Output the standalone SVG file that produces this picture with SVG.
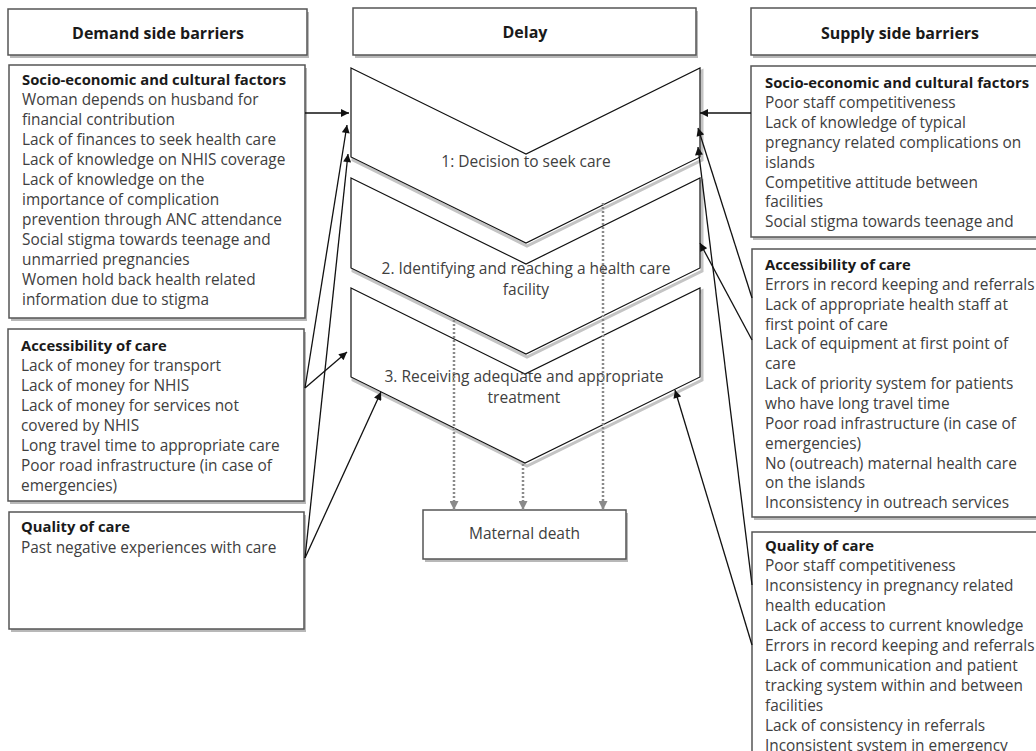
<svg xmlns="http://www.w3.org/2000/svg" width="1036" height="751" viewBox="0 0 1036 751">
<style>
.bx{fill:#fff;stroke:#555;stroke-width:1.5}
.sh{fill:#b8b8b8}
.chev{fill:#fff;stroke:#111;stroke-width:1.2}
.chsh{fill:none;stroke:#c4c4c4;stroke-width:3}
.t{font-family:'Open Sans','DejaVu Sans',sans-serif;font-size:15.4px;fill:#404040}
.b{font-weight:bold;fill:#1a1a1a;font-size:14.8px}
.hd{font-family:'Open Sans','DejaVu Sans',sans-serif;font-size:16px;font-weight:bold;fill:#1a1a1a;text-anchor:middle}
.ct{font-family:'Open Sans','DejaVu Sans',sans-serif;font-size:15.5px;fill:#404040;text-anchor:middle}
.c{fill:none;stroke:#111;stroke-width:1.3;marker-end:url(#ah)}
.d{fill:none;stroke:#8a8a8a;stroke-width:2.5;stroke-dasharray:2 2;marker-end:url(#gh)}
</style>
<defs>
<marker id="ah" viewBox="0 0 10 10" refX="10" refY="5" markerWidth="10" markerHeight="8" markerUnits="userSpaceOnUse" orient="auto"><path d="M0,0 L10,5 L0,10 z" fill="#111"/></marker>
<marker id="gh" viewBox="0 0 10 10" refX="10" refY="5" markerWidth="9" markerHeight="9" markerUnits="userSpaceOnUse" orient="auto"><path d="M0,0 L10,5 L0,10 z" fill="#8a8a8a"/></marker>
</defs>
<rect width="1036" height="751" fill="#fff"/>

<g id="hdr-demand">
<rect class="sh" x="10" y="12" width="299" height="46"/>
<rect class="bx" x="8" y="9" width="299" height="46"/>
<text class="hd" x="158" y="39">Demand side barriers</text>
</g>
<g id="hdr-delay">
<rect class="sh" x="355" y="11" width="343" height="47"/>
<rect class="bx" x="353" y="8" width="343" height="47"/>
<text class="hd" x="525" y="38">Delay</text>
</g>
<g id="hdr-supply">
<rect class="sh" x="753" y="11" width="300" height="47"/>
<rect class="bx" x="751" y="8" width="300" height="47"/>
<text class="hd" x="900" y="39">Supply side barriers</text>
</g>

<g id="demand-socio">
<rect class="sh" x="11" y="68" width="296" height="253"/>
<rect class="bx" x="9" y="65" width="296" height="253"/>
<text class="t" x="22" y="85"><tspan class="b" x="22">Socio-economic and cultural factors</tspan><tspan x="22" dy="20">Woman depends on husband for</tspan><tspan x="22" dy="20">financial contribution</tspan><tspan x="22" dy="20">Lack of finances to seek health care</tspan><tspan x="22" dy="20">Lack of knowledge on NHIS coverage</tspan><tspan x="22" dy="20">Lack of knowledge on the</tspan><tspan x="22" dy="20">importance of complication</tspan><tspan x="22" dy="20">prevention through ANC attendance</tspan><tspan x="22" dy="20">Social stigma towards teenage and</tspan><tspan x="22" dy="20">unmarried pregnancies</tspan><tspan x="22" dy="20">Women hold back health related</tspan><tspan x="22" dy="20">information due to stigma</tspan></text>
</g>
<g id="demand-access">
<rect class="sh" x="10" y="332" width="296" height="172"/>
<rect class="bx" x="8" y="329" width="296" height="172"/>
<text class="t" x="21" y="351"><tspan class="b" x="21">Accessibility of care</tspan><tspan x="21" dy="20">Lack of money for transport</tspan><tspan x="21" dy="20">Lack of money for NHIS</tspan><tspan x="21" dy="20">Lack of money for services not</tspan><tspan x="21" dy="20">covered by NHIS</tspan><tspan x="21" dy="20">Long travel time to appropriate care</tspan><tspan x="21" dy="20">Poor road infrastructure (in case of</tspan><tspan x="21" dy="20">emergencies)</tspan></text>
</g>
<g id="demand-quality">
<rect class="sh" x="11" y="515" width="295" height="117"/>
<rect class="bx" x="9" y="512" width="295" height="117"/>
<text class="t" x="21" y="532"><tspan class="b" x="21">Quality of care</tspan><tspan x="21" dy="20.5">Past negative experiences with care</tspan></text>
</g>

<g id="supply-socio">
<rect class="sh" x="753" y="69" width="300" height="171"/>
<rect class="bx" x="751" y="66" width="300" height="171"/>
<text class="t" x="765" y="88"><tspan class="b" x="765">Socio-economic and cultural factors</tspan><tspan x="765" dy="19.9">Poor staff competitiveness</tspan><tspan x="765" dy="19.9">Lack of knowledge of typical</tspan><tspan x="765" dy="19.9">pregnancy related complications on</tspan><tspan x="765" dy="19.9">islands</tspan><tspan x="765" dy="19.9">Competitive attitude between</tspan><tspan x="765" dy="19.9">facilities</tspan><tspan x="765" dy="19.9">Social stigma towards teenage and</tspan></text>
</g>
<g id="supply-access">
<rect class="sh" x="754" y="252" width="300" height="268"/>
<rect class="bx" x="752" y="249" width="300" height="268"/>
<text class="t" x="765" y="270"><tspan class="b" x="765">Accessibility of care</tspan><tspan x="765" dy="19.85">Errors in record keeping and referrals</tspan><tspan x="765" dy="19.85">Lack of appropriate health staff at</tspan><tspan x="765" dy="19.85">first point of care</tspan><tspan x="765" dy="19.85">Lack of equipment at first point of</tspan><tspan x="765" dy="19.85">care</tspan><tspan x="765" dy="19.85">Lack of priority system for patients</tspan><tspan x="765" dy="19.85">who have long travel time</tspan><tspan x="765" dy="19.85">Poor road infrastructure (in case of</tspan><tspan x="765" dy="19.85">emergencies)</tspan><tspan x="765" dy="19.85">No (outreach) maternal health care</tspan><tspan x="765" dy="19.85">on the islands</tspan><tspan x="765" dy="19.85">Inconsistency in outreach services</tspan></text>
</g>
<g id="supply-quality">
<rect class="sh" x="754" y="535" width="300" height="230"/>
<rect class="bx" x="752" y="532" width="300" height="230"/>
<text class="t" x="765" y="551"><tspan class="b" x="765">Quality of care</tspan><tspan x="765" dy="20">Poor staff competitiveness</tspan><tspan x="765" dy="20">Inconsistency in pregnancy related</tspan><tspan x="765" dy="20">health education</tspan><tspan x="765" dy="20">Lack of access to current knowledge</tspan><tspan x="765" dy="20">Errors in record keeping and referrals</tspan><tspan x="765" dy="20">Lack of communication and patient</tspan><tspan x="765" dy="20">tracking system within and between</tspan><tspan x="765" dy="20">facilities</tspan><tspan x="765" dy="20">Lack of consistency in referrals</tspan><tspan x="765" dy="19.5">Inconsistent system in emergency</tspan></text>
</g>

<g id="delay-1">
<polygon class="chsh" points="353,71 527,157 702,71 702,160 527,246 353,160"/>
<polygon class="chev" points="351,68 526,154 700,68 700,157 526,243 351,157"/>
<text class="ct" x="526" y="167">1: Decision to seek care</text>
</g>
<g id="delay-2">
<polygon class="chsh" points="353,181 527,267 702,181 702,271 527,357 353,271"/>
<polygon class="chev" points="351,178 526,264 700,178 700,268 526,354 351,268"/>
<text class="ct" x="526" y="274"><tspan x="526">2. Identifying and reaching a health care</tspan><tspan x="526" dy="20.5">facility</tspan></text>
</g>
<g id="delay-3">
<polygon class="chsh" points="353,291 527,377 702,291 702,380 527,466 353,380"/>
<polygon class="chev" points="351,288 525,374 700,288 700,377 525,463 351,377"/>
<text class="ct" x="524" y="382"><tspan x="524">3. Receiving adequate and appropriate</tspan><tspan x="524" dy="20.5">treatment</tspan></text>
</g>

<g id="maternal-death">
<rect class="sh" x="425" y="513" width="203" height="49"/>
<rect class="bx" x="423" y="510" width="203" height="49"/>
<text class="ct" x="524.5" y="539">Maternal death</text>
</g>

<g id="connectors">
<path class="c" d="M305,113 L349,113"/>
<path class="c" d="M305,388 L347,125"/>
<path class="c" d="M305,558 L348,154"/>
<path class="c" d="M305,388 L347,352"/>
<path class="c" d="M305,558 L381,392"/>
<path class="c" d="M751,113 L700,113"/>
<path class="c" d="M752,298 L698,128"/>
<path class="c" d="M752,585 L698,147"/>
<path class="c" d="M752,340 L700,243"/>
<path class="c" d="M752,645 L675,390"/>
<path class="d" d="M454,320 L454,510"/>
<path class="d" d="M523,464 L523,510"/>
<path class="d" d="M603,203 L603,510"/>
</g>
</svg>
